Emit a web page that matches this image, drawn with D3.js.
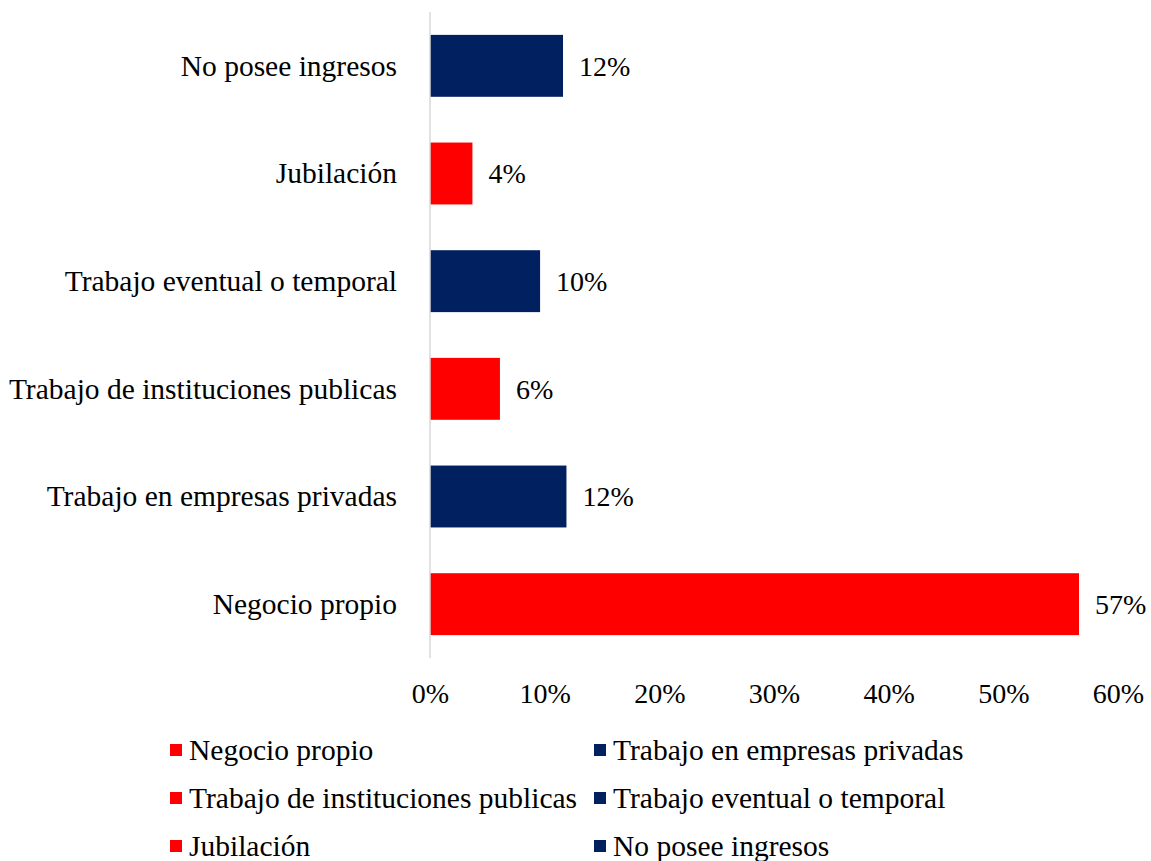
<!DOCTYPE html>
<html>
<head>
<meta charset="utf-8">
<script src="https://cdn.jsdelivr.net/npm/d3@7"></script>
<style>
  body { margin: 0; background: #fff; }
  text { font-family: "Liberation Serif", "Times New Roman", serif; fill: #000; }
</style>
</head>
<body>
<div id="chart"></div>
<script>
// categories, top to bottom as drawn
var categories = ["No posee ingresos", "Jubilación", "Trabajo eventual o temporal",
    "Trabajo de instituciones publicas", "Trabajo en empresas privadas", "Negocio propio"];
var values = [0.116, 0.037, 0.096, 0.061, 0.119, 0.566];
var colors = ["#002060", "#ff0000", "#002060", "#ff0000", "#002060", "#ff0000"];
var tickValues = [0, 0.1, 0.2, 0.3, 0.4, 0.5, 0.6];
// legend order (as in the picture, row by row)
var legendItems = ["Negocio propio", "Trabajo en empresas privadas",
    "Trabajo de instituciones publicas", "Trabajo eventual o temporal",
    "Jubilación", "No posee ingresos"];

var width = 1151, height = 861;
var margin = { top: 12, left: 430, right: 33, bottom: 203 };
var numSize = "28px";
var labelSize = "29.5px";

var svg = d3.select("#chart").append("svg")
    .attr("width", width)
    .attr("height", height);

var x = d3.scaleLinear()
    .domain([0, 0.6])
    .range([margin.left, width - margin.right]);

var y = d3.scaleBand()
    .domain(categories)
    .range([margin.top, height - margin.bottom])
    .paddingInner(0.425)
    .paddingOuter(0.2125);

var colorOf = {};
categories.forEach(function (c, i) { colorOf[c] = colors[i]; });

// bars
svg.selectAll(".bar")
    .data(categories)
    .enter().append("rect")
    .attr("class", "bar")
    .attr("x", x(0))
    .attr("y", function (d) { return y(d); })
    .attr("width", function (d, i) { return x(values[i]) - x(0); })
    .attr("height", y.bandwidth())
    .attr("fill", function (d, i) { return colors[i]; });

// vertical axis line
svg.append("line")
    .attr("x1", x(0)).attr("x2", x(0))
    .attr("y1", margin.top).attr("y2", height - margin.bottom)
    .attr("stroke", "#d9d9d9")
    .attr("stroke-width", 1.5);

// category labels
svg.selectAll(".cat")
    .data(categories)
    .enter().append("text")
    .attr("class", "cat")
    .attr("x", x(0) - 33)
    .attr("y", function (d) { return y(d) + y.bandwidth() / 2; })
    .attr("dy", "0.33em")
    .attr("text-anchor", "end")
    .style("font-size", labelSize)
    .text(function (d) { return d; });

// value labels
var fmt = d3.format(".0%");
svg.selectAll(".val")
    .data(categories)
    .enter().append("text")
    .attr("class", "val")
    .attr("x", function (d, i) { return x(values[i]) + 16; })
    .attr("y", function (d) { return y(d) + y.bandwidth() / 2; })
    .attr("dy", "0.35em")
    .style("font-size", numSize)
    .text(function (d, i) { return fmt(values[i]); });

// x axis tick labels
var xAxis = d3.axisBottom(x)
    .tickValues(tickValues)
    .tickFormat(d3.format(".0%"))
    .tickSize(0)
    .tickPadding(0);

var gx = svg.append("g")
    .attr("transform", "translate(0," + 693 + ")")
    .call(xAxis);
gx.select(".domain").remove();
gx.selectAll("text")
    .attr("y", 0)
    .attr("dy", "0.35em")
    .style("font-size", numSize)
    .style("font-family", "'Liberation Serif', 'Times New Roman', serif")
    .attr("fill", "#000");

// legend
var legend = svg.selectAll(".legend")
    .data(legendItems)
    .enter().append("g")
    .attr("class", "legend")
    .attr("transform", function (d, i) {
        var col = i % 2, row = Math.floor(i / 2);
        return "translate(" + (col === 0 ? 170 : 594) + "," + (750 + row * 48) + ")";
    });

legend.append("rect")
    .attr("x", 0)
    .attr("y", -6)
    .attr("width", 12)
    .attr("height", 12)
    .attr("fill", function (d) { return colorOf[d]; });

legend.append("text")
    .attr("x", 19)
    .attr("y", 0)
    .attr("dy", "0.33em")
    .style("font-size", labelSize)
    .text(function (d) { return d; });
</script>
</body>
</html>
